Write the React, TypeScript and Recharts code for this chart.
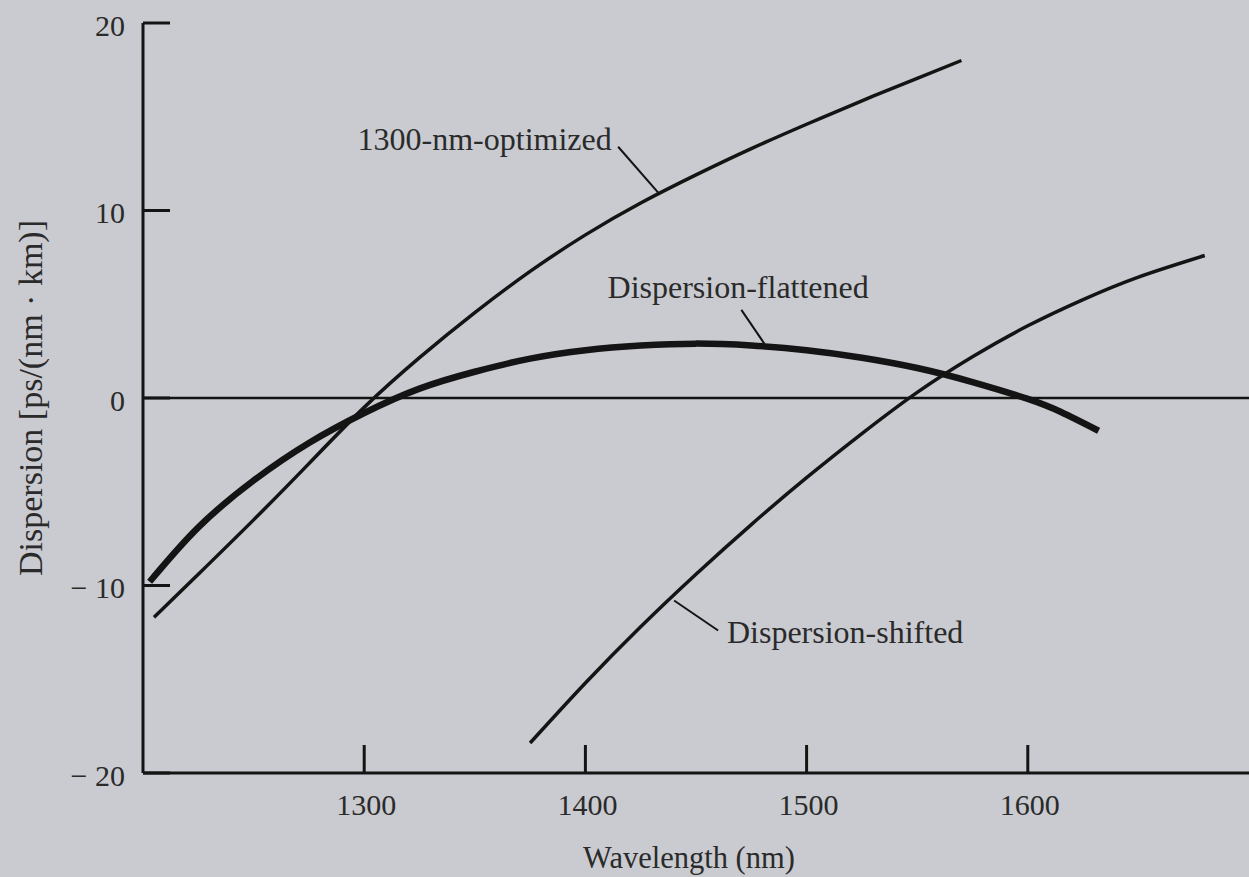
import React from 'react';
import { LineChart, Line, XAxis, YAxis, ReferenceLine, ReferenceDot } from 'recharts';

// wavelength (nm) -> dispersion (ps/(nm km))
const optimizedWl = [1205, 1225, 1250, 1275, 1300, 1325, 1350, 1375, 1400, 1425, 1450, 1475, 1500, 1525, 1550, 1570];
const optimizedD = [-11.7, -9.4, -6.5, -3.5, -0.5, 2.15, 4.55, 6.75, 8.7, 10.4, 11.9, 13.3, 14.6, 15.85, 17.05, 18.0];

const flattenedWl = [1203, 1225, 1250, 1275, 1300, 1325, 1350, 1375, 1400, 1425, 1450, 1475, 1500, 1525, 1550, 1575, 1600, 1615, 1632];
const flattenedD = [-9.8, -6.9, -4.4, -2.4, -0.8, 0.5, 1.4, 2.1, 2.55, 2.8, 2.9, 2.8, 2.55, 2.15, 1.6, 0.85, -0.05, -0.75, -1.75];

const shiftedWl = [1375, 1400, 1425, 1450, 1475, 1500, 1525, 1550, 1575, 1600, 1625, 1650, 1680];
const shiftedD = [-18.4, -15.2, -12.2, -9.4, -6.75, -4.25, -1.9, 0.3, 2.2, 3.85, 5.25, 6.45, 7.6];

const xTicks = [1300, 1400, 1500, 1600];
const yTicks = [-20, -10, 0, 10, 20];
const yTickText: Record<number, string> = { '-20': '\u2212 20', '-10': '\u2212 10', 0: '0', 10: '10', 20: '20' };

// curve annotations: label anchor + leader line (data coords)
const labels = [
  { text: '1300-nm-optimized', x: 1297, y: 13.8, from: { x: 1414.8, y: 13.4 }, to: { x: 1433.3, y: 10.9 } },
  { text: 'Dispersion-flattened', x: 1410, y: 5.9, from: { x: 1470.5, y: 4.7 }, to: { x: 1480.9, y: 2.9 } },
  { text: 'Dispersion-shifted', x: 1464, y: -12.5, from: { x: 1440.1, y: -10.8 }, to: { x: 1460, y: -12.4 } },
];

const toPts = (wl: number[], d: number[]) => wl.map((w, i) => ({ w, d: d[i] }));

const INK = '#141414';
const TXT = '#2a2a2a';
const FONT = '"Liberation Serif", "Times New Roman", serif';

const YTick = (props: any) => {
  const { x, y, payload } = props;
  return (
    <g>
      <line x1={x} x2={x + 27} y1={y} y2={y} stroke={INK} strokeWidth={3} />
      <text x={x - 18} y={y + 2} textAnchor="end" dominantBaseline="central" fontSize={30} fontFamily={FONT} fill={TXT}>
        {yTickText[payload.value]}
      </text>
    </g>
  );
};

const XTick = (props: any) => {
  const { x, y, payload } = props;
  return (
    <g>
      <line x1={x} x2={x} y1={y} y2={y - 28} stroke={INK} strokeWidth={3} />
      <text x={x + 2} y={y + 31} textAnchor="middle" dominantBaseline="central" fontSize={30} fontFamily={FONT} fill={TXT}>
        {payload.value}
      </text>
    </g>
  );
};

export default function App() {
  return (
    <div style={{ position: 'absolute', left: 0, top: 0, width: 1249, height: 877, background: '#c9cbd0', overflow: 'hidden' }}>
      <LineChart width={1249} height={877} margin={{ top: 23, right: 0, bottom: 0, left: 0 }}>
        <XAxis
          type="number"
          dataKey="w"
          domain={[1200, 1700]}
          ticks={xTicks}
          allowDataOverflow
          height={104}
          axisLine={{ stroke: INK, strokeWidth: 3 }}
          tickLine={false}
          tickSize={0}
          tickMargin={0}
          tick={<XTick />}
          label={{ value: 'Wavelength (nm)', position: 'insideBottom', offset: 9, dx: -7, fontSize: 30.5, fontFamily: FONT, fill: TXT }}
        />
        <YAxis
          type="number"
          domain={[-20, 20]}
          ticks={yTicks}
          allowDataOverflow
          width={143}
          axisLine={{ stroke: INK, strokeWidth: 3 }}
          tickLine={false}
          tickSize={0}
          tickMargin={0}
          tick={<YTick />}
          label={{ value: 'Dispersion [ps/(nm \u00b7 km)]', angle: -90, position: 'insideLeft', offset: 30, fontSize: 34, fontFamily: FONT, fill: TXT, style: { textAnchor: 'middle' } }}
        />
        <ReferenceLine y={0} stroke={INK} strokeWidth={2.5} />
        <Line data={toPts(optimizedWl, optimizedD)} dataKey="d" type="natural" stroke={INK} strokeWidth={3.5} dot={false} isAnimationActive={false} />
        <Line data={toPts(flattenedWl, flattenedD)} dataKey="d" type="natural" stroke={INK} strokeWidth={6.5} dot={false} isAnimationActive={false} />
        <Line data={toPts(shiftedWl, shiftedD)} dataKey="d" type="natural" stroke={INK} strokeWidth={3.5} dot={false} isAnimationActive={false} />
        {labels.map((l) => (
          <ReferenceLine key={l.text + 'ln'} segment={[l.from, l.to]} stroke={INK} strokeWidth={2} ifOverflow="visible" />
        ))}
        {labels.map((l) => (
          <ReferenceDot
            key={l.text}
            x={l.x}
            y={l.y}
            r={0}
            ifOverflow="visible"
            shape={(p: any) => (
              <text x={p.cx} y={p.cy} dominantBaseline="central" fontSize={32} fontFamily={FONT} fill={TXT}>
                {l.text}
              </text>
            )}
          />
        ))}
      </LineChart>
    </div>
  );
}
